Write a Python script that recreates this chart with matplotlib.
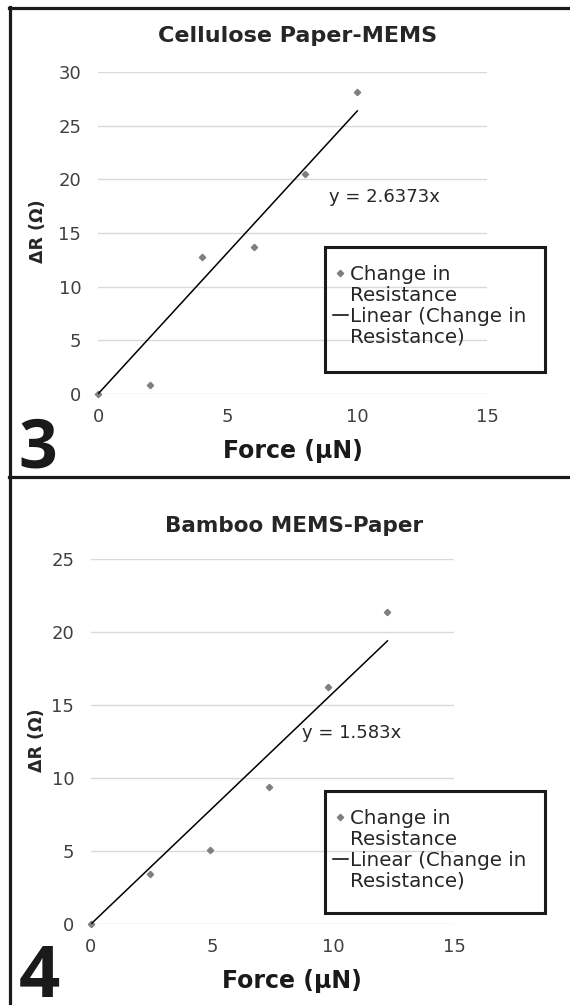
import numpy as np
import matplotlib.pyplot as plt
from matplotlib.lines import Line2D
from matplotlib.patches import Rectangle

plt.rcParams['font.family'] = ['DejaVu Sans']

# Painel 3 - Cellulose Paper-MEMS
forca_3 = [0, 2, 4, 6, 8, 10]
dR_3 = [0, 0.85, 12.8, 13.7, 20.5, 28.1]
incl_3 = 2.6373

# Painel 4 - Bamboo MEMS-Paper
forca_4 = [0, 2.45, 4.9, 7.35, 9.8, 12.25]
dR_4 = [0, 3.4, 5.1, 9.4, 16.2, 21.4]
incl_4 = 1.583

W, H = 570, 1005
fig = plt.figure(figsize=(W / 100, H / 100), dpi=100)


def fx(px):
    return px / W


def fy(py):
    return 1 - py / H


def painel(ax, x, y, incl, ymax, eq_xy):
    ax.set_xlim(0, 15)
    ax.set_ylim(0, ymax)
    ax.set_xticks([0, 5, 10, 15])
    ax.set_yticks(np.arange(0, ymax + 1, 5))
    ax.grid(axis='y', color='#d9d9d9', lw=1)
    ax.set_axisbelow(True)
    for s in ax.spines.values():
        s.set_visible(False)
    ax.tick_params(length=0, labelsize=13, labelcolor='#404040')
    ax.tick_params(axis='x', pad=10)
    ax.tick_params(axis='y', pad=12)
    pts, = ax.plot(x, y, 'D', color='#7f7f7f', ms=3.2, clip_on=False)
    xl = np.array([0, max(x)])
    reta, = ax.plot(xl, incl * xl, color='black', lw=1.1)
    ax.text(eq_xy[0], eq_xy[1], 'y = %gx' % incl, fontsize=13,
            color='#262626', va='center')
    return pts, reta


def legenda(ax, pts, reta, topo, base):
    # caixa preta grossa
    fig.patches.append(Rectangle((fx(325), fy(base)), fx(545 - 325), (base - topo) / H,
                                 transform=fig.transFigure, fill=False,
                                 ec='#1a1a1a', lw=2.2))
    vazio = Line2D([], [], ls='none')
    ax.legend([pts, vazio, reta, vazio],
              ['Change in', 'Resistance', 'Linear (Change in', 'Resistance)'],
              loc='upper left', bbox_to_anchor=(fx(333), fy(topo + 18)),
              bbox_transform=fig.transFigure, frameon=False, fontsize=14.3,
              handlelength=0.75, handletextpad=0.12, labelspacing=0.1,
              borderpad=0, borderaxespad=0, labelcolor='#262626')


# ---------------- painel 3 ----------------
ax1 = fig.add_axes([fx(98), fy(394), fx(487 - 98), (394 - 72) / H])
p, r = painel(ax1, forca_3, dR_3, incl_3, 30, (8.9, 18.4))
legenda(ax1, p, r, 247, 372)
fig.text(fx(298), fy(42), 'Cellulose Paper-MEMS', ha='center', va='baseline',
         fontsize=16, fontweight='bold', color='#262626')
fig.text(fx(38), fy(231), 'ΔR (Ω)', rotation=90, ha='center', va='center',
         fontsize=12.5, fontweight='bold', color='#262626')
fig.text(fx(293), fy(458), 'Force (μN)', ha='center', va='baseline',
         fontsize=17, fontweight='bold', color='#1a1a1a')
fig.text(fx(38), fy(467), '3', ha='center', va='baseline', fontsize=49,
         fontweight='bold', family='Open Sans', color='#1a1a1a')

# ---------------- painel 4 ----------------
ax2 = fig.add_axes([fx(91), fy(924), fx(454 - 91), (924 - 559) / H])
p, r = painel(ax2, forca_4, dR_4, incl_4, 25, (8.7, 13.1))
legenda(ax2, p, r, 791, 913)
fig.text(fx(294), fy(532), 'Bamboo MEMS-Paper', ha='center', va='baseline',
         fontsize=15.5, fontweight='bold', color='#262626')
fig.text(fx(37), fy(740), 'ΔR (Ω)', rotation=90, ha='center', va='center',
         fontsize=12.5, fontweight='bold', color='#262626')
fig.text(fx(292), fy(988), 'Force (μN)', ha='center', va='baseline',
         fontsize=17, fontweight='bold', color='#1a1a1a')
fig.text(fx(39), fy(997), '4', ha='center', va='baseline', fontsize=52,
         fontweight='bold', family='Open Sans', color='#1a1a1a')

# moldura da figura
for xs, ys in [([9, 570], [8.5, 8.5]), ([9.5, 9.5], [7, 1005]), ([9, 570], [477, 477])]:
    fig.add_artist(Line2D([fx(v) for v in xs], [fy(v) for v in ys],
                          transform=fig.transFigure, color='#1a1a1a', lw=2.3))

plt.savefig('out.png', dpi=100)
